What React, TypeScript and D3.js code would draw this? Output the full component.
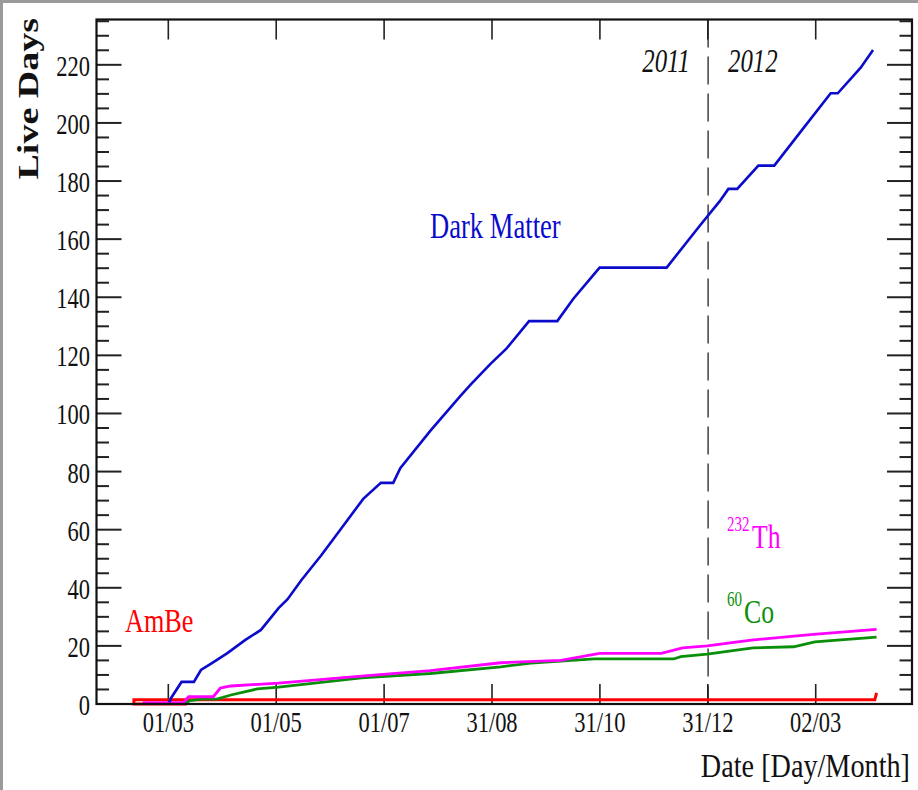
import React from "react";
import * as d3 from "d3";

// ---- data -------------------------------------------------------------
const darkMatterDates = [
  "2011-03-01", "2011-03-02", "2011-03-08", "2011-03-15", "2011-03-19", "2011-03-25",
  "2011-04-03", "2011-04-13", "2011-04-22", "2011-05-02", "2011-05-07", "2011-05-15",
  "2011-05-26", "2011-06-06", "2011-06-19", "2011-06-29", "2011-07-06", "2011-07-10",
  "2011-07-27", "2011-08-13", "2011-08-19", "2011-08-30", "2011-09-08", "2011-09-21",
  "2011-10-07", "2011-10-16", "2011-10-31", "2011-12-08", "2011-12-27", "2012-01-07",
  "2012-01-12", "2012-01-17", "2012-01-29", "2012-02-07", "2012-02-22", "2012-03-10",
  "2012-03-14", "2012-03-27", "2012-04-03",
];
const darkMatterDays = [
  0.5, 2, 7.6, 7.6, 11.7, 14, 17.5, 22, 25.5, 33, 36, 42.7, 51, 60, 70.6, 76.1, 76.1, 81.2,
  94, 106, 110, 117, 122.2, 131.8, 131.8, 139.4, 150.2, 150.2, 164.8, 173, 177.3, 177.3,
  185.3, 185.3, 197, 210.2, 210.2, 219, 225.1,
];

const thoriumDates = [
  "2011-02-14", "2011-03-09", "2011-03-12", "2011-03-26", "2011-03-30", "2011-04-05",
  "2011-05-02", "2011-06-18", "2011-07-27", "2011-09-05", "2011-10-09", "2011-10-31",
  "2011-12-05", "2011-12-17", "2011-12-31", "2012-01-25", "2012-02-29", "2012-04-05",
];
const thoriumDays = [
  0.5, 0.5, 2.5, 2.5, 5.5, 6.2, 7.2, 9.6, 11.5, 14.2, 15, 17.4, 17.4, 19.3, 20, 22, 24, 25.7,
];

const cobaltDates = [
  "2011-03-09", "2011-03-13", "2011-03-19", "2011-03-28", "2011-04-05", "2011-04-20",
  "2011-05-02", "2011-06-18", "2011-07-27", "2011-09-05", "2011-09-22", "2011-10-28",
  "2011-12-12", "2011-12-16", "2011-12-31", "2012-01-26", "2012-02-18", "2012-03-01",
  "2012-04-05",
];
const cobaltDays = [
  0, 1.2, 1.7, 1.7, 3.1, 5.2, 5.8, 9, 10.5, 12.8, 14.1, 15.5, 15.5, 16.3, 17.2, 19.3, 19.7,
  21.4, 23,
];

const ambeDates = ["2011-03-11", "2011-02-09", "2011-02-09", "2012-04-04", "2012-04-05"];
const ambeDays = [0, 0, 1.5, 1.5, 3.8];

// axis definitions
const xDomain = ["2011-01-19T07:00:00Z", "2012-04-25T14:00:00Z"];
const yDomain = [0, 235.6];
const xTickDates = [
  "2011-03-01T00:00:00Z", "2011-05-01T04:00:00Z", "2011-07-01T08:00:00Z",
  "2011-08-31T12:00:00Z", "2011-10-31T16:00:00Z", "2011-12-31T20:00:00Z",
  "2012-03-02T00:00:00Z",
];
const xTickLabels = ["01/03", "01/05", "01/07", "31/08", "31/10", "31/12", "02/03"];
const yMajorTicks = [0, 20, 40, 60, 80, 100, 120, 140, 160, 180, 200, 220];
const yMinorStep = 5;
const yearBoundary = "2012-01-01T00:00:00Z";

// ---- layout -----------------------------------------------------------
const W = 918;
const H = 790;
const L = 96.5;
const R = 912;
const T = 19.5;
const B = 704;
const FONT = "'Liberation Serif', 'Times New Roman', serif";

const x = d3.scaleUtc().domain(xDomain.map((d) => new Date(d))).range([L, R]);
const y = d3.scaleLinear().domain(yDomain).range([B, T]);

const toDate = (s: string) => new Date(s.length === 10 ? s + "T12:00:00Z" : s);

function series(dates: string[], vals: number[]) {
  return dates.map((d, i) => [toDate(d), vals[i]] as [Date, number]);
}

const line = d3
  .line<[Date, number]>()
  .x((d) => x(d[0]))
  .y((d) => y(d[1]));

// text with a horizontal squeeze (narrow serif look)
function SText(props: {
  x: number;
  y: number;
  sx?: number;
  size: number;
  anchor?: string;
  fill?: string;
  italic?: boolean;
  bold?: boolean;
  rotate?: number;
  children: React.ReactNode;
}) {
  const { sx = 0.75, size, anchor = "start", fill = "#111", italic, bold, rotate } = props;
  const tf = `translate(${props.x},${props.y}) scale(${sx},1)` + (rotate ? ` rotate(${rotate})` : "");
  return (
    <text
      transform={tf}
      fontSize={size}
      fontFamily={FONT}
      textAnchor={anchor}
      fill={fill}
      fontStyle={italic ? "italic" : "normal"}
      fontWeight={bold ? "bold" : "normal"}
    >
      {props.children}
    </text>
  );
}

export default function App() {
  const yMinor = d3.range(0, yDomain[1], yMinorStep).filter((v) => v % 20 !== 0);
  const blue = "#0b0bcc";
  const magenta = "#ff00ff";
  const green = "#0a8f0a";
  const red = "#ff0000";
  const xb = x(new Date(yearBoundary));

  return (
    <div style={{ position: "fixed", left: 0, top: 0, width: W, height: H }}>
      <svg width={W} height={H} style={{ display: "block" }}>
        <rect x={0} y={0} width={W} height={H} fill="#ffffff" />
        <rect x={0} y={0} width={W} height={3} fill="#9a9a9a" />
        <rect x={0} y={0} width={3} height={H} fill="#9a9a9a" />

        {/* year separator */}
        <line x1={xb} x2={xb} y1={T} y2={B} stroke="#333" strokeWidth={1.4} strokeDasharray="28,9" />

        {/* y ticks, left and right */}
        {yMajorTicks.map((v) => (
          <g key={"ym" + v}>
            <line x1={L} x2={L + 25} y1={y(v)} y2={y(v)} stroke="#222" strokeWidth={2} />
            <line x1={R} x2={R - 25} y1={y(v)} y2={y(v)} stroke="#222" strokeWidth={2} />
          </g>
        ))}
        {yMinor.map((v) => (
          <g key={"yn" + v}>
            <line x1={L} x2={L + 12.5} y1={y(v)} y2={y(v)} stroke="#222" strokeWidth={2} />
            <line x1={R} x2={R - 12.5} y1={y(v)} y2={y(v)} stroke="#222" strokeWidth={2} />
          </g>
        ))}

        {/* x ticks, bottom and top */}
        {xTickDates.map((d) => {
          const px = x(new Date(d));
          return (
            <g key={"xt" + d}>
              <line x1={px} x2={px} y1={B} y2={B - 20} stroke="#222" strokeWidth={1.6} />
              <line x1={px} x2={px} y1={T} y2={T + 20} stroke="#222" strokeWidth={1.6} />
            </g>
          );
        })}

        {/* curves */}
        <path d={line(series(ambeDates, ambeDays)) || ""} fill="none" stroke={red} strokeWidth={3} />
        <path d={line(series(cobaltDates, cobaltDays)) || ""} fill="none" stroke={green} strokeWidth={2.8} />
        <path d={line(series(thoriumDates, thoriumDays)) || ""} fill="none" stroke={magenta} strokeWidth={2.8} />
        <path d={line(series(darkMatterDates, darkMatterDays)) || ""} fill="none" stroke={blue} strokeWidth={2.6} />

        {/* frame */}
        <rect x={L} y={T} width={R - L} height={B - T} fill="none" stroke="#111" strokeWidth={2.2} />

        {/* tick labels */}
        {yMajorTicks.map((v) => (
          <SText key={"yl" + v} x={90} y={y(v) + 11} size={30} anchor="end">
            {String(v)}
          </SText>
        ))}
        {xTickDates.map((d, i) => (
          <SText key={"xl" + d} x={x(new Date(d))} y={732} size={30} anchor="middle">
            {xTickLabels[i]}
          </SText>
        ))}

        {/* axis titles */}
        <SText x={38} y={18} size={38} anchor="end" bold rotate={-90}>
          Live Days
        </SText>
        <SText x={910} y={777} size={34} anchor="end" sx={0.83}>
          Date [Day/Month]
        </SText>

        {/* year labels */}
        <SText x={690} y={72} size={34} anchor="end" italic sx={0.73}>
          2011
        </SText>
        <SText x={728} y={72} size={34} anchor="start" italic sx={0.73}>
          2012
        </SText>

        {/* series labels */}
        <SText x={430} y={238} size={35} fill={blue} sx={0.76}>
          Dark Matter
        </SText>
        <SText x={125} y={632} size={34} fill={red} sx={0.77}>
          AmBe
        </SText>
        <SText x={727} y={531} size={20} fill={magenta} sx={0.75}>
          232
        </SText>
        <SText x={752} y={548} size={33} fill={magenta} sx={0.78}>
          Th
        </SText>
        <SText x={727} y={606} size={20} fill={green} sx={0.75}>
          60
        </SText>
        <SText x={744} y={623} size={33} fill={green} sx={0.78}>
          Co
        </SText>
      </svg>
    </div>
  );
}
